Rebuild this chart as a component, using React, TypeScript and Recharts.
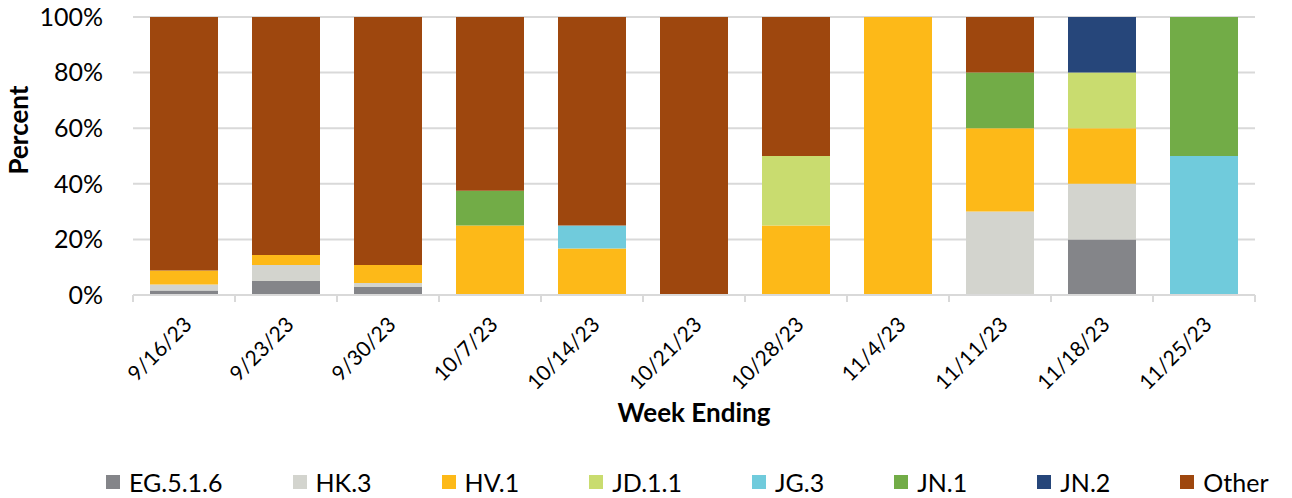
import React from "react";
import {
  BarChart,
  Bar,
  XAxis,
  YAxis,
  CartesianGrid,
  Legend,
} from "recharts";

// ── Data (percent of sequences per week) ────────────────────────────────────

const weeks = [
  "9/16/23", "9/23/23", "9/30/23", "10/7/23", "10/14/23", "10/21/23",
  "10/28/23", "11/4/23", "11/11/23", "11/18/23", "11/25/23",
];

const eg516 = [1.6, 5.0, 2.9, 0, 0, 0, 0, 0, 0, 20, 0];
const hk3 = [2.2, 5.8, 1.4, 0, 0, 0, 0, 0, 30, 20, 0];
const hv1 = [5.0, 3.6, 6.5, 25, 16.7, 0, 25, 100, 30, 20, 0];
const jd11 = [0, 0, 0, 0, 0, 0, 25, 0, 0, 20, 0];
const jg3 = [0, 0, 0, 0, 8.3, 0, 0, 0, 0, 0, 50];
const jn1 = [0, 0, 0, 12.5, 0, 0, 0, 0, 20, 0, 50];
const jn2 = [0, 0, 0, 0, 0, 0, 0, 0, 0, 20, 0];
const other = [91.2, 85.6, 89.2, 62.5, 75, 100, 50, 0, 20, 0, 0];

const yTicks = [0, 20, 40, 60, 80, 100];

// ── Series styling ──────────────────────────────────────────────────────────

const series = [
  { key: "EG.5.1.6", values: eg516, color: "#848589" },
  { key: "HK.3", values: hk3, color: "#D3D4CE" },
  { key: "HV.1", values: hv1, color: "#FDB918" },
  { key: "JD.1.1", values: jd11, color: "#C9DC6F" },
  { key: "JG.3", values: jg3, color: "#70CBDC" },
  { key: "JN.1", values: jn1, color: "#72AC47" },
  { key: "JN.2", values: jn2, color: "#26467A" },
  { key: "Other", values: other, color: "#9E470E" },
];

const data = weeks.map((week, i) => {
  const row: Record<string, string | number> = { week };
  series.forEach((s) => {
    row[s.key] = s.values[i];
  });
  return row;
});

const FONT = "Lato, 'Open Sans', sans-serif";
const GRID = "#D9D9D9";
const WIDTH = 1292;
const HEIGHT = 498;
const MARGIN = { top: 17, right: 37, left: 0, bottom: 0 };
const Y_AXIS_W = 133;
const BAND = (WIDTH - MARGIN.right - Y_AXIS_W) / weeks.length;

// ── Custom pieces ───────────────────────────────────────────────────────────

function WeekTick(props: any) {
  const { x, y, payload, index } = props;
  const ax = x + 9;
  const ay = y + 23;
  return (
    <g>
      <line x1={x - BAND / 2} x2={x - BAND / 2} y1={y - 8} y2={y - 1} stroke={GRID} strokeWidth={2} />
      {index === weeks.length - 1 && (
        <line x1={x + BAND / 2} x2={x + BAND / 2} y1={y - 8} y2={y - 1} stroke={GRID} strokeWidth={2} />
      )}
      <text
        x={ax}
        y={ay}
        textAnchor="end"
        transform={`rotate(-45, ${ax}, ${ay})`}
        fontSize={21}
        fontFamily={FONT}
        fill="#000"
      >
        {payload.value}
      </text>
    </g>
  );
}

function LegendRow() {
  return (
    <div
      style={{
        display: "flex",
        alignItems: "center",
        boxSizing: "border-box",
        height: 58,
        paddingTop: 26,
        paddingLeft: 106,
        fontFamily: FONT,
        fontSize: 25,
        color: "#000",
        whiteSpace: "nowrap",
      }}
    >
      {series.map((s) => (
        <div key={s.key} style={{ display: "flex", alignItems: "center", marginRight: 70 }}>
          <span style={{ width: 14, height: 14, background: s.color, marginRight: 9 }} />
          <span>{s.key}</span>
        </div>
      ))}
    </div>
  );
}

// ── Component ───────────────────────────────────────────────────────────────

export default function App() {
  return (
    <div style={{ position: "absolute", left: 0, top: 0, width: WIDTH, height: HEIGHT, background: "#fff" }}>
      <BarChart width={WIDTH} height={HEIGHT} data={data} margin={MARGIN}>
        <CartesianGrid horizontal vertical={false} stroke={GRID} strokeWidth={2} />
        <XAxis
          dataKey="week"
          height={145}
          axisLine={{ stroke: GRID, strokeWidth: 2 }}
          tickLine={false}
          tickSize={8}
          tickMargin={0}
          interval={0}
          tick={<WeekTick />}
          label={{
            value: "Week Ending",
            position: "insideBottom",
            offset: 18,
            fontSize: 26,
            fontWeight: 700,
            fontFamily: FONT,
            fill: "#000",
          }}
        />
        <YAxis
          width={Y_AXIS_W}
          domain={[0, 100]}
          ticks={yTicks}
          allowDataOverflow
          axisLine={false}
          tickLine={false}
          tickMargin={24}
          tickFormatter={(v) => `${v}%`}
          tick={{ fontSize: 25, fontFamily: FONT, fill: "#000" }}
          label={{
            value: "Percent",
            angle: -90,
            position: "insideLeft",
            offset: 0,
            content: () => (
              <text
                x={18}
                y={130}
                transform="rotate(-90, 18, 130)"
                textAnchor="middle"
                dominantBaseline="central"
                fontSize={26}
                fontWeight={700}
                fontFamily={FONT}
                fill="#000"
              >
                Percent
              </text>
            ),
          }}
        />
        <Legend verticalAlign="bottom" height={58} content={<LegendRow />} wrapperStyle={{ left: 0, width: WIDTH }} />
        {series.map((s) => (
          <Bar key={s.key} dataKey={s.key} stackId="a" fill={s.color} barSize={68} isAnimationActive={false} />
        ))}
      </BarChart>
    </div>
  );
}
